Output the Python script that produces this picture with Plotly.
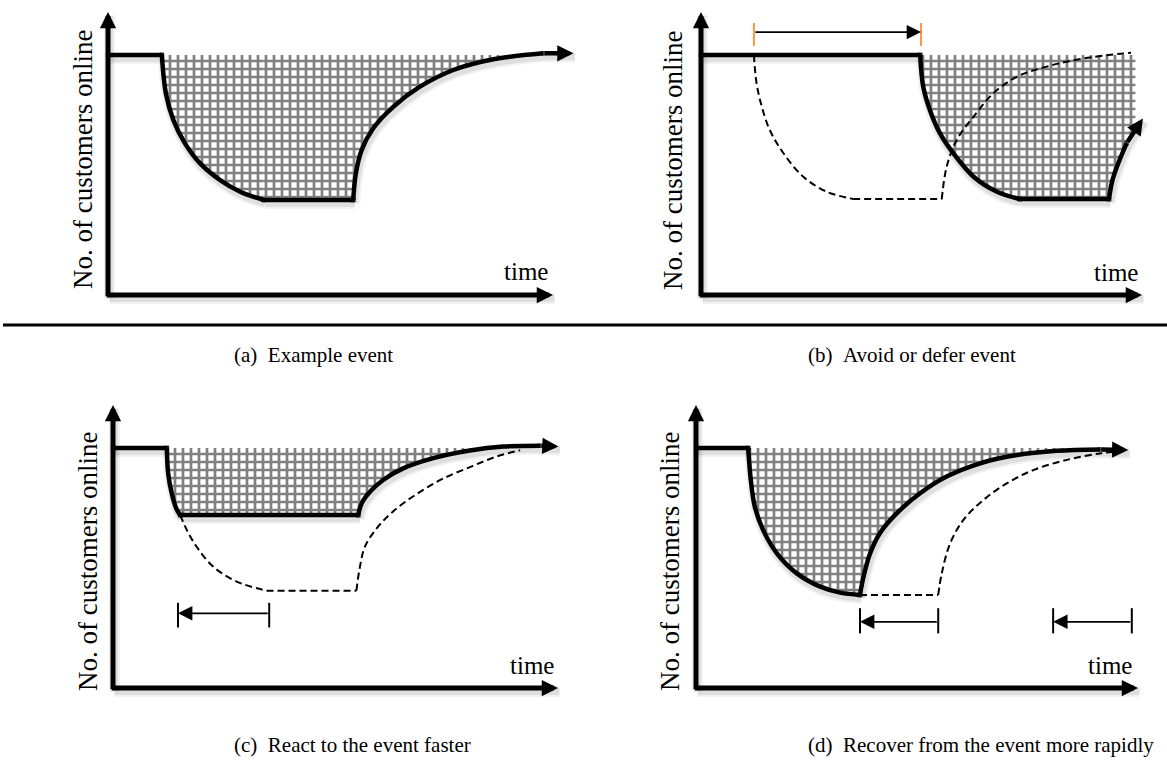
import plotly.graph_objects as go

W, H = 1167, 761

# ---------------- data (relative units: time 0-100, customers 0-100) ----------------
LEVEL = 84.8  # customers online before the event

# (a) Example event
A_FLAT_T = [0.0, 12.1]
A_DROP_T = [12.1, 13.0, 14.7, 17.3, 20.7, 25.2, 29.7, 34.9]
A_DROP_C = [84.8, 71.3, 61.8, 53.6, 46.5, 40.6, 36.5, 33.6]
A_LOW_T = [34.9, 55.1]
A_LOW_C = [33.6, 33.6]
A_RISE_T = [55.1, 55.7, 57.0, 59.6, 64.1, 70.1, 77.6, 86.6, 97.8]
A_RISE_C = [33.6, 43.0, 51.2, 58.9, 66.5, 73.6, 79.5, 83.3, 85.4]
A_TIP = [104.6, 85.4]

# (b) Avoid or defer event
B_FLAT_T = [0.0, 49.7]
B_DROP_T = [49.7, 50.4, 51.9, 54.2, 57.2, 61.8, 67.1, 72.3]
B_DROP_C = [84.8, 73.6, 65.4, 57.1, 50.1, 41.8, 36.5, 33.9]
B_LOW_T = [72.3, 92.5]
B_LOW_C = [33.9, 33.9]
B_RISE_T = [92.5, 93.3, 94.6, 96.5]
B_RISE_C = [33.9, 40.6, 46.5, 53.6]
B_TIP = [100.2, 62.4]
B_HATCH_END = 98.5
B_OLD_DROP_T = [12.0, 12.6, 13.8, 15.6, 18.7, 23.2, 28.5, 34.5]
B_OLD_DROP_C = [84.8, 74.8, 66.5, 58.3, 50.1, 41.8, 36.5, 33.9]
B_OLD_LOW_T = [34.5, 54.6]
B_OLD_LOW_C = [33.9, 33.9]
B_OLD_RISE_T = [54.6, 55.7, 58.0, 61.8, 66.3, 71.6, 78.4, 86.7, 97.5]
B_OLD_RISE_C = [33.9, 45.3, 54.8, 63.0, 71.3, 77.1, 80.7, 83.6, 85.6]
B_SHIFT_T = [12.0, 49.9]
B_SHIFT_C = 92.9
B_TICK_C = [88.0, 96.1]

# (c) React to the event faster
C_FLAT_T = [0.0, 12.1]
C_DROP_T = [12.1, 12.4, 13.2, 14.2, 15.1]
C_DROP_C = [84.8, 75.8, 68.8, 63.5, 61.1]
C_LOW_T = [15.1, 55.1]
C_LOW_C = [61.1, 61.1]
C_RISE_T = [55.1, 55.9, 57.8, 60.7, 65.2, 72.0, 80.2, 87.7, 96.0]
C_RISE_C = [61.1, 65.3, 69.4, 73.5, 77.6, 81.2, 83.9, 85.3, 85.6]
C_TIP = [100.1, 85.3]
C_OLD_DROP_T = [15.1, 16.6, 18.8, 22.5, 27.8, 34.5]
C_OLD_DROP_C = [61.1, 55.8, 49.9, 42.9, 37.6, 34.4]
C_OLD_LOW_T = [34.5, 54.7]
C_OLD_LOW_C = [34.4, 34.4]
C_OLD_RISE_T = [54.7, 55.5, 56.6, 59.3, 63.0, 68.2, 74.2, 80.9, 86.2, 91.5]
C_OLD_RISE_C = [34.4, 42.9, 49.9, 56.5, 62.5, 68.5, 74.0, 78.5, 81.8, 84.0]
C_SHIFT_T = [35.1, 14.6]
C_SHIFT_C = 26.4
C_BAR_C = [21.4, 30.1]

# (d) Recover from the event more rapidly
D_FLAT_T = [0.0, 11.8]
D_DROP_T = [11.8, 12.4, 13.3, 15.2, 18.3, 22.8, 28.1, 32.6, 37.1]
D_DROP_C = [84.8, 73.5, 64.1, 55.8, 47.6, 40.5, 35.8, 33.7, 32.9]
D_RISE_T = [37.1, 37.9, 39.4, 41.6, 45.4, 50.7, 56.7, 64.3, 72.6, 81.6, 91.4]
D_RISE_C = [32.9, 39.3, 47.6, 54.7, 61.7, 68.8, 74.7, 79.4, 82.3, 83.8, 84.3]
D_TIP = [97.8, 84.1]
D_OLD_LOW_T = [37.1, 54.8]
D_OLD_LOW_C = [32.9, 32.9]
D_OLD_RISE_T = [54.8, 55.6, 57.5, 60.5, 65.0, 70.3, 76.3, 83.9, 91.4, 96.7]
D_OLD_RISE_C = [32.9, 40.5, 51.1, 59.4, 66.4, 72.3, 77.0, 80.6, 82.9, 83.8]
D_SHIFT1_T = [54.8, 37.1]
D_SHIFT2_T = [98.6, 80.8]
D_SHIFT_C = 23.4
D_BAR_C = [19.3, 28.2]

AXIS_TIP = 100.0
Y_LABEL = "No. of customers online"
X_LABEL = "time"
CAPTIONS = ["(a)\u00a0\u00a0Example event", "(b)\u00a0\u00a0Avoid or defer event",
            "(c)\u00a0\u00a0React to the event faster",
            "(d)\u00a0\u00a0Recover from the event more rapidly"]

# ---------------- layout geometry (pixels) ----------------
GEOM = {1: (108, 295, 4.45, 2.83), 2: (701, 295, 4.41, 2.83),
        3: (113, 688, 4.45, 2.83), 4: (696, 688, 4.42, 2.83)}
FONT = "'Liberation Serif', 'Times New Roman', Times, serif"
ORANGE = "#F79646"
PATTERN = dict(shape="+", size=8, solidity=0.56, fgcolor="black", bgcolor="white")
LW = 4.5
SHADOW_DX, SHADOW_DY = 1.5, 3.5   # px
SHADOWS = [(11, "rgba(0,0,0,0.05)"), (7, "rgba(0,0,0,0.08)")]

fig = go.Figure()
layout_axes = {}


def suf(i):
    return "" if i == 1 else str(i)


for i, (ox, oy, sx, sy) in GEOM.items():
    x0, x1 = max(0, round(ox - 5 * sx)), min(W, round(ox + 106 * sx))
    ytop, ybot = max(0, round(oy - 104 * sy)), round(oy + 7 * sy)
    s = suf(i)
    layout_axes["xaxis" + s] = dict(domain=[x0 / W, x1 / W], range=[(x0 - ox) / sx, (x1 - ox) / sx],
                                    visible=False, anchor="y" + s, fixedrange=True)
    layout_axes["yaxis" + s] = dict(domain=[1 - ybot / H, 1 - ytop / H], range=[(oy - ybot) / sy, (oy - ytop) / sy],
                                    visible=False, anchor="x" + s, fixedrange=True)


def add_line(i, t, c, width=LW, dash=None, shape="spline", color="black", joints=True):
    s = suf(i)
    n = len(t)
    kw = {}
    mode = "lines"
    if joints and dash is None:
        mode = "lines+markers"
        kw["marker"] = dict(symbol="square", color=color, line=dict(width=0),
                            size=[width if k in (0, n - 1) else 0 for k in range(n)])
    fig.add_trace(go.Scatter(x=t, y=c, mode=mode,
                             line=dict(color=color, width=width, shape=shape, dash=dash or "solid"),
                             xaxis="x" + s, yaxis="y" + s, hoverinfo="skip", showlegend=False, **kw))


def add_shadow(i, t, c, shape):
    ox, oy, sx, sy = GEOM[i]
    s = suf(i)
    for w, col in SHADOWS:
        fig.add_trace(go.Scatter(x=[v + SHADOW_DX / sx for v in t], y=[v - SHADOW_DY / sy for v in c],
                                 mode="lines", line=dict(color=col, width=w, shape=shape),
                                 xaxis="x" + s, yaxis="y" + s, hoverinfo="skip", showlegend=False))


def add_hatch(i, t, c, shape="spline"):
    s = suf(i)
    fig.add_trace(go.Scatter(x=[t[0], t[-1]], y=[LEVEL, LEVEL], mode="lines", line=dict(width=0),
                             xaxis="x" + s, yaxis="y" + s, hoverinfo="skip", showlegend=False))
    fig.add_trace(go.Scatter(x=t, y=c, mode="lines", line=dict(width=0, shape=shape),
                             fill="tonexty", fillcolor="white", fillpattern=PATTERN,
                             xaxis="x" + s, yaxis="y" + s, hoverinfo="skip", showlegend=False))


def add_arrow(i, tail, tip, width, size, color="black"):
    s = suf(i)
    fig.add_annotation(x=tip[0], y=tip[1], ax=tail[0], ay=tail[1], xref="x" + s, yref="y" + s,
                       axref="x" + s, ayref="y" + s, text="", showarrow=True, arrowhead=2,
                       arrowsize=size, arrowwidth=width, arrowcolor=color)


SOLID = {
    1: (A_FLAT_T, [(A_DROP_T, A_DROP_C, "spline"), (A_LOW_T, A_LOW_C, "linear"), (A_RISE_T, A_RISE_C, "spline")], A_TIP),
    2: (B_FLAT_T, [(B_DROP_T, B_DROP_C, "spline"), (B_LOW_T, B_LOW_C, "linear"), (B_RISE_T, B_RISE_C, "spline")], B_TIP),
    3: (C_FLAT_T, [(C_DROP_T, C_DROP_C, "spline"), (C_LOW_T, C_LOW_C, "linear"), (C_RISE_T, C_RISE_C, "spline")], C_TIP),
    4: (D_FLAT_T, [(D_DROP_T, D_DROP_C, "spline"), (D_RISE_T, D_RISE_C, "spline")], D_TIP),
}

# ---- soft shadows under the thick lines
for i, (flat, segs, tip) in SOLID.items():
    add_shadow(i, flat, [LEVEL, LEVEL], "linear")
    for t, c, shp in segs:
        add_shadow(i, t, c, shp)
    add_shadow(i, [segs[-1][0][-1], tip[0]], [segs[-1][1][-1], tip[1]], "linear")
    add_shadow(i, [0, AXIS_TIP], [0, 0], "linear")
    add_shadow(i, [0, 0], [0, AXIS_TIP], "linear")

# ---- hatched areas (lost customers)
add_hatch(1, A_DROP_T, A_DROP_C)
add_hatch(1, A_LOW_T, A_LOW_C, "linear")
add_hatch(1, A_RISE_T, A_RISE_C)

add_hatch(2, B_DROP_T, B_DROP_C)
add_hatch(2, B_LOW_T, B_LOW_C, "linear")
add_hatch(2, B_RISE_T, B_RISE_C)
frac = (B_HATCH_END - B_RISE_T[-1]) / (B_TIP[0] - B_RISE_T[-1])
add_hatch(2, [B_RISE_T[-1], B_HATCH_END], [B_RISE_C[-1], B_RISE_C[-1] + frac * (B_TIP[1] - B_RISE_C[-1])], "linear")

add_hatch(3, C_DROP_T, C_DROP_C)
add_hatch(3, C_LOW_T, C_LOW_C, "linear")
add_hatch(3, C_RISE_T, C_RISE_C)

add_hatch(4, D_DROP_T, D_DROP_C)
add_hatch(4, D_RISE_T, D_RISE_C)

# ---- dashed (original event) curves
DASH = "7px,4px"
add_line(2, B_OLD_DROP_T, B_OLD_DROP_C, 2, DASH)
add_line(2, B_OLD_LOW_T, B_OLD_LOW_C, 2, DASH, "linear")
add_line(2, B_OLD_RISE_T, B_OLD_RISE_C, 2, DASH)
add_line(3, C_OLD_DROP_T, C_OLD_DROP_C, 2, DASH)
add_line(3, C_OLD_LOW_T, C_OLD_LOW_C, 2, DASH, "linear")
add_line(3, C_OLD_RISE_T, C_OLD_RISE_C, 2, DASH)
add_line(4, D_OLD_LOW_T, D_OLD_LOW_C, 2, DASH, "linear")
add_line(4, D_OLD_RISE_T, D_OLD_RISE_C, 2, DASH)

# ---- solid curves
for i, (flat, segs, tip) in SOLID.items():
    add_line(i, flat, [LEVEL, LEVEL], LW, None, "linear")
    for t, c, shp in segs:
        add_line(i, t, c, LW, None, shp)
    last_t, last_c = segs[-1][0][-1], segs[-1][1][-1]
    add_arrow(i, (last_t, last_c), tip, LW, 0.72)

# ---- shift indicators
for t in B_SHIFT_T:
    add_line(2, [t, t], B_TICK_C, 2, None, "linear", ORANGE, joints=False)
add_arrow(2, (B_SHIFT_T[0], B_SHIFT_C), (B_SHIFT_T[1], B_SHIFT_C), 1.8, 1.6)

for i, pair, yc, bars in [(3, C_SHIFT_T, C_SHIFT_C, C_BAR_C),
                          (4, D_SHIFT1_T, D_SHIFT_C, D_BAR_C),
                          (4, D_SHIFT2_T, D_SHIFT_C, D_BAR_C)]:
    for t in pair:
        add_line(i, [t, t], bars, 2, None, "linear", joints=False)
    add_arrow(i, (pair[0], yc), (pair[1], yc), 1.8, 1.6)

# ---- axes with arrows
for i in GEOM:
    add_arrow(i, (-0.6, 0), (AXIS_TIP, 0), 5, 0.65)
    add_arrow(i, (0, -1.0), (0, AXIS_TIP), 5, 0.65)

# ---- texts
YLAB_POS = {1: (83, 160), 2: (673, 161), 3: (88, 562), 4: (670, 562)}
TIME_POS = {1: (526, 271), 2: (1116, 272), 3: (532, 665), 4: (1110, 665)}
CAP_POS = {1: (232, 355), 2: (806, 355), 3: (232, 745), 4: (806, 745)}
for i in GEOM:
    x, y = YLAB_POS[i]
    fig.add_annotation(x=x / W, y=1 - y / H, xref="paper", yref="paper", text=Y_LABEL, textangle=-90,
                       showarrow=False, font=dict(family=FONT, size=27, color="black"),
                       xanchor="center", yanchor="middle")
    x, y = TIME_POS[i]
    fig.add_annotation(x=x / W, y=1 - y / H, xref="paper", yref="paper", text=X_LABEL,
                       showarrow=False, font=dict(family=FONT, size=25, color="black"),
                       xanchor="center", yanchor="middle")
    x, y = CAP_POS[i]
    fig.add_annotation(x=x / W, y=1 - y / H, xref="paper", yref="paper", text=CAPTIONS[i - 1],
                       showarrow=False, font=dict(family=FONT, size=21, color="black"),
                       xanchor="left", yanchor="middle")

fig.add_shape(type="line", xref="paper", yref="paper", x0=3 / W, x1=1, y0=1 - 325 / H, y1=1 - 325 / H,
              line=dict(color="black", width=3))

fig.update_layout(width=W, height=H, autosize=False, margin=dict(l=0, r=0, t=0, b=0),
                  paper_bgcolor="white", plot_bgcolor="rgba(0,0,0,0)", showlegend=False,
                  **layout_axes)

fig.write_html("out.html", config={"displayModeBar": False, "staticPlot": True},
               post_script="document.body.style.margin='0';document.body.style.padding='0';"
                           "document.documentElement.style.overflow='hidden';")
